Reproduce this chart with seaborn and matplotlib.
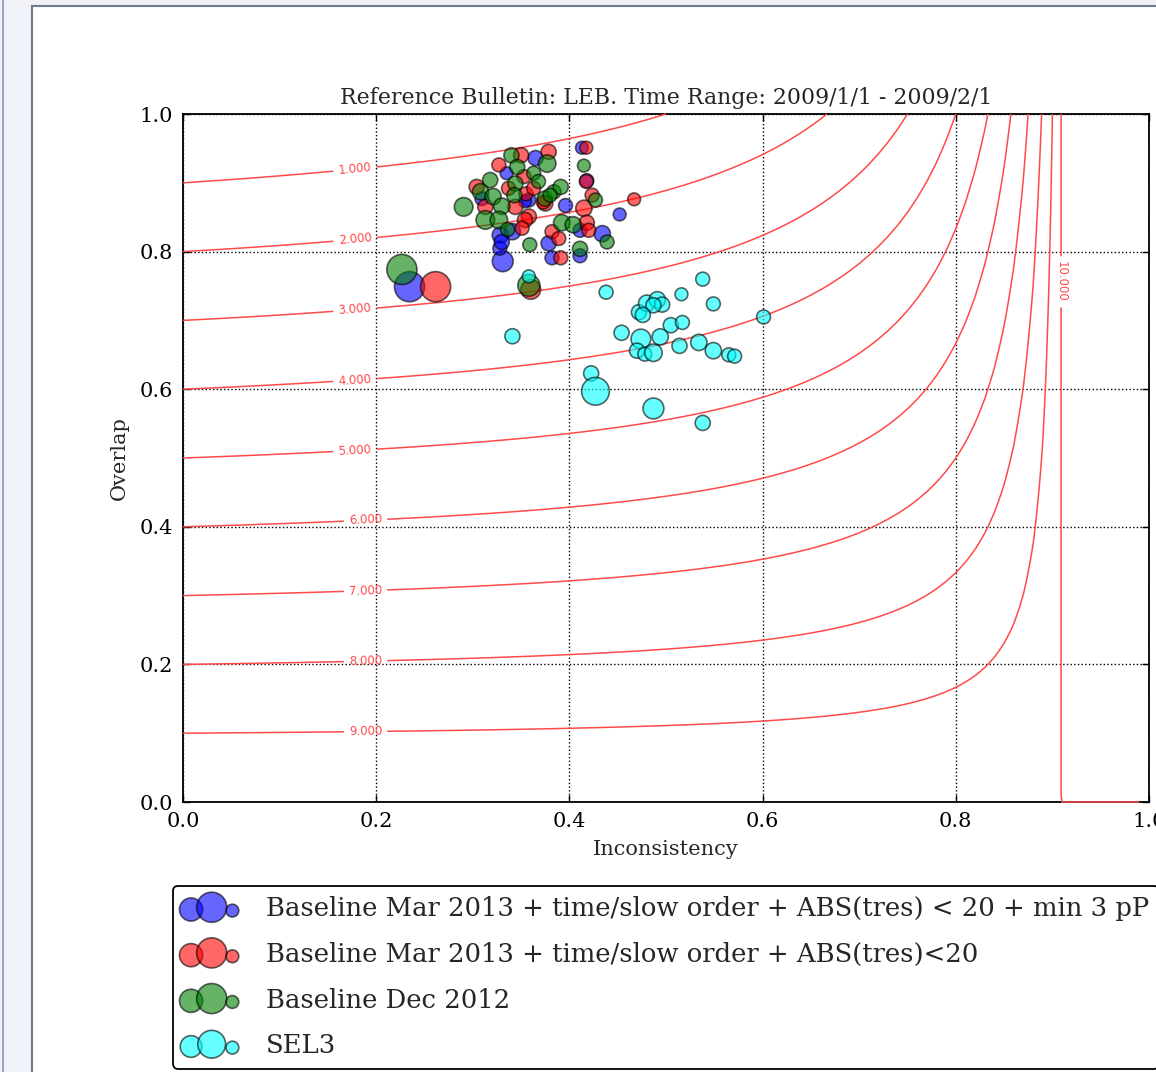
import numpy as np
import matplotlib
matplotlib.use("Agg")
import matplotlib.pyplot as plt
from matplotlib.patches import Rectangle
from matplotlib.lines import Line2D
import seaborn as sns

sns.set_style("ticks", {"xtick.direction": "in", "ytick.direction": "in"})
plt.rcParams["font.family"] = ["DejaVu Serif"]
plt.rcParams["xtick.top"] = True
plt.rcParams["ytick.right"] = True
plt.rcParams["axes.edgecolor"] = "black"
plt.rcParams["axes.linewidth"] = 1.3
plt.rcParams["xtick.color"] = "black"
plt.rcParams["ytick.color"] = "black"

title = "Reference Bulletin: LEB. Time Range: 2009/1/1 - 2009/2/1"
labels = [
    "Baseline Mar 2013 + time/slow order + ABS(tres) < 20 + min 3 pP",
    "Baseline Mar 2013 + time/slow order + ABS(tres)<20",
    "Baseline Dec 2012",
    "SEL3",
]

# inconsistency, overlap, marker size per run
blue_x = [0.2345, 0.331, 0.365, 0.335, 0.413, 0.418, 0.452, 0.3285, 0.341, 0.328,
          0.358, 0.396, 0.3785, 0.382, 0.434, 0.411, 0.411, 0.3095, 0.330, 0.354]
blue_y = [0.749, 0.786, 0.936, 0.914, 0.951, 0.903, 0.854, 0.824, 0.829, 0.805,
          0.875, 0.867, 0.812, 0.791, 0.826, 0.794, 0.831, 0.877, 0.814, 0.873]
blue_s = [470, 225, 118, 85, 85, 100, 85, 137, 137, 100,
          100, 100, 118, 100, 137, 100, 100, 100, 118, 85]

red_x = [0.2615, 0.360, 0.350, 0.3785, 0.327, 0.353, 0.4175, 0.4175, 0.4235, 0.467,
         0.304, 0.313, 0.344, 0.355, 0.358, 0.354, 0.351, 0.375, 0.382, 0.389,
         0.391, 0.415, 0.418, 0.420, 0.337, 0.363, 0.373]
red_y = [0.749, 0.745, 0.940, 0.945, 0.926, 0.909, 0.951, 0.902, 0.882, 0.876,
         0.894, 0.865, 0.865, 0.884, 0.851, 0.846, 0.834, 0.870, 0.829, 0.819,
         0.791, 0.863, 0.842, 0.831, 0.892, 0.892, 0.872]
red_s = [470, 200, 118, 118, 100, 100, 85, 100, 100, 85,
         118, 118, 118, 100, 118, 118, 100, 118, 100, 100,
         100, 137, 118, 100, 100, 100, 100]

green_x = [0.2266, 0.358, 0.340, 0.377, 0.346, 0.363, 0.368, 0.415, 0.427, 0.318,
           0.308, 0.321, 0.2905, 0.330, 0.313, 0.327, 0.344, 0.343, 0.359, 0.3745,
           0.384, 0.391, 0.392, 0.404, 0.439, 0.411, 0.336, 0.380]
green_y = [0.774, 0.751, 0.940, 0.928, 0.923, 0.914, 0.902, 0.925, 0.875, 0.904,
           0.887, 0.880, 0.865, 0.866, 0.846, 0.846, 0.899, 0.882, 0.810, 0.877,
           0.887, 0.894, 0.842, 0.839, 0.814, 0.804, 0.832, 0.882]
green_s = [470, 250, 118, 158, 118, 100, 100, 85, 100, 118,
           137, 137, 180, 137, 180, 158, 118, 118, 100, 118,
           100, 118, 137, 137, 100, 118, 100, 100]

cyan_x = [0.438, 0.538, 0.516, 0.549, 0.601, 0.472, 0.480, 0.491, 0.496, 0.487,
          0.476, 0.454, 0.474, 0.494, 0.505, 0.517, 0.470, 0.478, 0.487, 0.514,
          0.534, 0.549, 0.565, 0.571, 0.4225, 0.427, 0.487, 0.538, 0.341, 0.358]
cyan_y = [0.741, 0.760, 0.738, 0.724, 0.705, 0.712, 0.725, 0.730, 0.723, 0.722,
          0.708, 0.682, 0.673, 0.676, 0.693, 0.697, 0.656, 0.651, 0.653, 0.663,
          0.668, 0.656, 0.650, 0.648, 0.623, 0.597, 0.572, 0.551, 0.677, 0.764]
cyan_s = [100, 100, 85, 100, 100, 118, 137, 137, 118, 118,
          118, 118, 200, 137, 118, 100, 118, 100, 158, 118,
          137, 137, 100, 100, 118, 400, 225, 118, 118, 85]

levels = [1, 2, 3, 4, 5, 6, 7, 8, 9, 10]
label_pos = [(0.178, 0.919), (0.178, 0.818), (0.178, 0.715), (0.178, 0.612),
             (0.178, 0.510), (0.189, 0.408), (0.189, 0.307), (0.189, 0.203),
             (0.189, 0.102), (0.908, 0.756)]

W, H = 1156, 1072
fig = plt.figure(figsize=(W / 100, H / 100), dpi=100, facecolor="#f1f2f8")
fig.patches.append(Rectangle((32 / W, -0.05), 1.0, 1.05 - 6 / H, transform=fig.transFigure,
                             facecolor="white", edgecolor="#6f7a90", linewidth=1.5,
                             zorder=-2))
fig.lines.append(Line2D([2.5 / W, 2.5 / W], [0, 1], transform=fig.transFigure,
                        color="#8c95ad", linewidth=1.2, zorder=-2))

ax = fig.add_axes([183 / W, 1 - 802 / H, 966 / W, 688 / H])

# cost surface behind the scatter
gx = np.linspace(0, 0.99, 100)
gy = np.linspace(0, 1.0, 101)
X, Y = np.meshgrid(gx, gy)
Z = 10 * (1 - Y) + Y * X / (1 - X)
# tiny nudge so the top level also traces the bottom edge past x = 10/11
cs = ax.contour(X, Y, Z, levels=[v + 1e-6 for v in levels], colors="#ff4a4a",
                linewidths=1.1, zorder=2.6)
cs.set_clip_on(False)
txts = ax.clabel(cs, fmt="%1.3f", fontsize=8.5, inline=True, manual=label_pos)
for t in txts:
    t.set_fontfamily("DejaVu Sans")

series = [
    (blue_x, blue_y, blue_s, "blue"),
    (red_x, red_y, red_s, "red"),
    (green_x, green_y, green_s, "green"),
    (cyan_x, cyan_y, cyan_s, "cyan"),
]
for (xs, ys, ss, c), lab in zip(series, labels):
    sns.scatterplot(x=xs, y=ys, s=ss, color=c, alpha=0.6, edgecolor="black",
                    linewidth=1.2, label=lab, legend=False, ax=ax, zorder=3)

ax.set_xlim(0, 1)
ax.set_ylim(0, 1)
ax.set_xticks([0, 0.2, 0.4, 0.6, 0.8, 1.0])
ax.set_yticks([0, 0.2, 0.4, 0.6, 0.8, 1.0])
ax.tick_params(labelsize=15, length=5, width=1, pad=7)
ax.grid(True, color="black", linestyle=":", linewidth=1)
ax.set_xlabel("Inconsistency", fontsize=15, labelpad=7)
ax.set_ylabel("Overlap", fontsize=15, labelpad=8)
ax.set_title(title, fontsize=15.8, pad=7)

leg = ax.legend(loc="upper left", bbox_to_anchor=(-0.0104, -0.122), scatterpoints=3,
                fontsize=18.6, borderaxespad=0, frameon=True, fancybox=True,
                framealpha=1, edgecolor="black", labelspacing=0.8,
                handlelength=2.2, handletextpad=1.0, borderpad=0.4)
leg.get_frame().set_linewidth(1.3)

fig.savefig("out.png", dpi=100, facecolor=fig.get_facecolor())
